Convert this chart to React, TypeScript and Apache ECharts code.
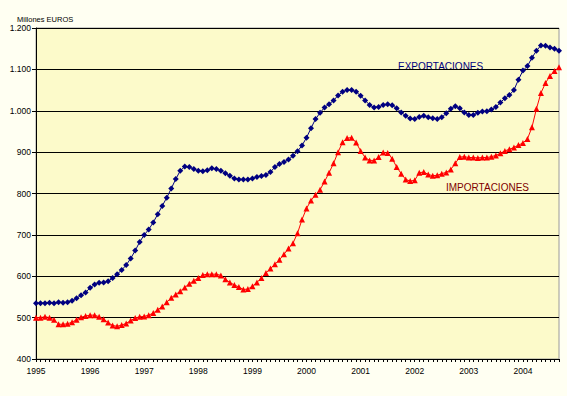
import React, { useEffect, useRef } from "react";
import * as echarts from "echarts";

const years = ["1995", "1996", "1997", "1998", "1999", "2000", "2001", "2002", "2003", "2004"];
const monthNames = ["01", "02", "03", "04", "05", "06", "07", "08", "09", "10", "11", "12"];
const months: string[] = years.flatMap((y) => monthNames.map((m) => `${y}-${m}`)).slice(0, 117);

const exportaciones = [
  535, 535, 535, 536, 535, 537, 536, 537, 541, 547, 554, 561,
  572, 580, 584, 585, 588, 596, 605, 615, 627, 643, 662, 683,
  700, 713, 730, 750, 770, 790, 812, 835, 855, 865, 864, 859,
  855, 854, 856, 861, 859, 855, 849, 843, 836, 834, 834, 834,
  836, 840, 842, 845, 852, 864, 871, 876, 882, 891, 902, 916,
  935, 958, 980, 995, 1008, 1016, 1025, 1037, 1046, 1050, 1050, 1046,
  1036, 1025, 1014, 1008, 1009, 1014, 1016, 1013, 1006, 996, 988, 981,
  980, 985, 988, 984, 982, 980, 984, 994, 1005, 1011, 1006, 996,
  990, 990, 995, 998, 999, 1003, 1009, 1020, 1030, 1038, 1050, 1075,
  1097, 1108, 1128, 1145, 1158, 1157, 1153, 1150, 1145,
];

const importaciones = [
  500, 500, 502, 500, 495, 484, 484, 485, 489, 495, 501, 504,
  506, 506, 502, 496, 488, 481, 479, 482, 486, 493, 499, 502,
  503, 506, 511, 519, 527, 537, 548, 556, 564, 573, 582, 589,
  596, 603, 605, 605, 605, 602, 593, 585, 579, 574, 568, 569,
  576, 585, 596, 608, 619, 629, 640, 653, 667, 680, 704, 737,
  764, 783, 797, 809, 829, 850, 873, 900, 924, 934, 935, 923,
  903, 887, 880, 880, 888, 899, 898, 884, 864, 848, 834, 830,
  832, 850, 852, 846, 843, 844, 848, 851, 858, 873, 888, 889,
  887, 887, 886, 887, 887, 889, 892, 897, 903, 907, 911, 917,
  922, 932, 960, 1005, 1043, 1067, 1084, 1096, 1105,
];

const FONT = "'Liberation Sans', Arial, sans-serif";

function fmtThousands(v: number): string {
  if (v >= 1000) {
    const th = Math.floor(v / 1000);
    const rest = String(v % 1000).padStart(3, "0");
    return `${th}.${rest}`;
  }
  return String(v);
}

export default function App() {
  const ref = useRef<HTMLDivElement>(null);
  useEffect(() => {
    if (!ref.current) return;
    const chart = echarts.init(ref.current, undefined, { renderer: "svg" });
    chart.setOption({
      animation: false,
      backgroundColor: "#FFFFF2",
      title: {
        text: "Millones EUROS",
        left: 12,
        top: 10,
        textStyle: { fontFamily: FONT, fontSize: 7.5, fontWeight: "normal", color: "#000" },
      },
      grid: {
        left: 36,
        right: 8,
        top: 28,
        bottom: 37,
        show: true,
        backgroundColor: "#FCFACA",
        borderColor: "#9a9a9a",
        borderWidth: 1,
      },
      xAxis: {
        type: "category",
        data: months,
        boundaryGap: false,
        axisLine: { lineStyle: { color: "#000", width: 1 } },
        axisTick: { show: true, interval: 0, length: 3, lineStyle: { color: "#000" } },
        axisLabel: {
          interval: (i: number) => i % 12 === 0,
          formatter: (v: string) => v.slice(0, 4),
          fontFamily: FONT,
          fontSize: 8.5,
          color: "#000",
          margin: 7,
        },
        splitLine: { show: false },
      },
      yAxis: {
        type: "value",
        min: 400,
        max: 1200,
        interval: 100,
        axisLine: { show: true, lineStyle: { color: "#000", width: 1 } },
        axisTick: { show: true, length: 4, lineStyle: { color: "#000" } },
        axisLabel: {
          formatter: (v: number) => fmtThousands(v),
          fontFamily: FONT,
          fontSize: 8.5,
          color: "#000",
          margin: 5,
        },
        splitLine: { show: true, lineStyle: { color: "#000", width: 1 } },
      },
      series: [
        {
          name: "IMPORTACIONES",
          type: "line",
          data: importaciones,
          symbol: "triangle",
          symbolSize: 6,
          showSymbol: true,
          showAllSymbol: true,
          lineStyle: { color: "#FF0000", width: 1 },
          itemStyle: { color: "#FF0000" },
        },
        {
          name: "EXPORTACIONES",
          type: "line",
          data: exportaciones,
          symbol: "diamond",
          symbolSize: 6,
          showSymbol: true,
          showAllSymbol: true,
          lineStyle: { color: "#000080", width: 1 },
          itemStyle: { color: "#000080" },
        },
      ],
      graphic: [
        {
          type: "text",
          left: 398,
          top: 61,
          style: { text: "EXPORTACIONES", fill: "#000080", font: `10px ${FONT}` },
        },
        {
          type: "text",
          left: 446,
          top: 182,
          style: { text: "IMPORTACIONES", fill: "#800000", font: `10px ${FONT}` },
        },
      ],
    });
    return () => chart.dispose();
  }, []);
  return (
    <div
      ref={ref}
      style={{ position: "fixed", left: 0, top: 0, width: 567, height: 396 }}
    />
  );
}
